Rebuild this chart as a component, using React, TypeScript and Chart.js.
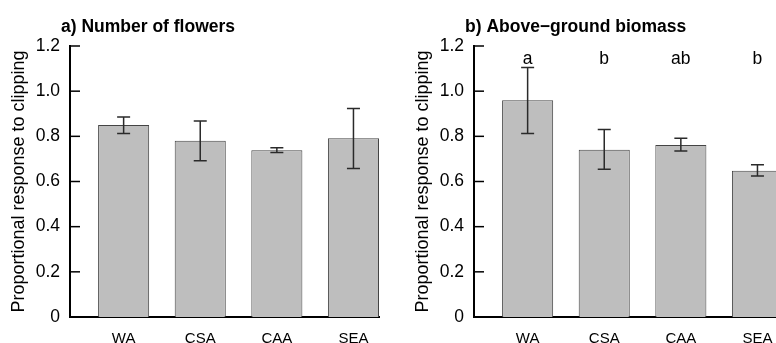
import React, { useEffect, useRef } from "react";
import { Chart, registerables } from "chart.js";

Chart.register(...registerables);

// ---- data ----
const CATEGORIES = ["WA", "CSA", "CAA", "SEA"];

const FLOWERS_MEAN = [0.85, 0.78, 0.738, 0.791];
const FLOWERS_LOWER = [0.813, 0.692, 0.728, 0.658];
const FLOWERS_UPPER = [0.886, 0.868, 0.75, 0.923];

const BIOMASS_MEAN = [0.96, 0.741, 0.762, 0.648];
const BIOMASS_LOWER = [0.812, 0.654, 0.735, 0.624];
const BIOMASS_UPPER = [1.105, 0.83, 0.791, 0.674];
const BIOMASS_GROUPS = ["a", "b", "ab", "b"];

const Y_TICKS = [0, 0.2, 0.4, 0.6, 0.8, 1.0, 1.2];
const Y_TICK_LABELS = ["0", "0.2", "0.4", "0.6", "0.8", "1.0", "1.2"];

const Y_TITLE = "Proportional response to clipping";
const TITLE_A = "a) Number of flowers";
const TITLE_B = "b) Above\u2212ground biomass";

// barplot-style layout: unit-width bars separated by half a bar
const BAR_SPACE = 0.5;
const X_MIN = -0.05;
const X_MAX = 6;
const GROUP_LABEL_Y = 1.12;

const FONT = '"Liberation Sans", Arial, Helvetica, sans-serif';
const PANEL_W = 404;
const PANEL_H = 343;

const barCenter = (i: number) => BAR_SPACE + 0.5 + i * (1 + BAR_SPACE);

type PanelProps = {
  title: string;
  means: number[];
  lowers: number[];
  uppers: number[];
  groups?: string[];
};

function Panel({ title, means, lowers, uppers, groups }: PanelProps) {
  const ref = useRef<HTMLCanvasElement | null>(null);

  useEffect(() => {
    const canvas = ref.current;
    if (!canvas) return;

    const positions = CATEGORIES.map((_, i) => barCenter(i));

    const panelDecor = {
      id: "panelDecor",
      afterDatasetsDraw(chart: any) {
        const { ctx, chartArea } = chart;
        const xs = chart.scales.x;
        const ys = chart.scales.y;
        const meta = chart.getDatasetMeta(0);

        // error bars
        ctx.save();
        ctx.strokeStyle = "#2a2a2a";
        ctx.lineWidth = 1.5;
        const cap = 6.5;
        meta.data.forEach((bar: any, i: number) => {
          const x = bar.x;
          const yTop = ys.getPixelForValue(uppers[i]);
          const yBot = ys.getPixelForValue(lowers[i]);
          ctx.beginPath();
          ctx.moveTo(x, yTop);
          ctx.lineTo(x, yBot);
          ctx.moveTo(x - cap, yTop);
          ctx.lineTo(x + cap, yTop);
          ctx.moveTo(x - cap, yBot);
          ctx.lineTo(x + cap, yBot);
          ctx.stroke();
        });
        ctx.restore();

        // inward y-axis ticks
        ctx.save();
        ctx.strokeStyle = "#000";
        ctx.lineWidth = 1.5;
        Y_TICKS.forEach((v) => {
          const y = ys.getPixelForValue(v);
          ctx.beginPath();
          ctx.moveTo(chartArea.left, y);
          ctx.lineTo(chartArea.left + 10, y);
          ctx.stroke();
        });
        ctx.restore();

        // group letters
        if (groups) {
          ctx.save();
          ctx.fillStyle = "#000";
          ctx.font = `17.5px ${FONT}`;
          ctx.textAlign = "center";
          ctx.textBaseline = "alphabetic";
          groups.forEach((g, i) => {
            ctx.fillText(g, xs.getPixelForValue(positions[i]), ys.getPixelForValue(GROUP_LABEL_Y));
          });
          ctx.restore();
        }

        // panel title
        ctx.save();
        ctx.fillStyle = "#000";
        ctx.font = `bold 17.5px ${FONT}`;
        ctx.textAlign = "left";
        ctx.textBaseline = "alphabetic";
        ctx.fillText(title, chartArea.left - 9, chartArea.top - 14);
        ctx.restore();
      },
    };

    const chart = new Chart(canvas, {
      type: "bar",
      data: {
        datasets: [
          {
            data: means.map((m, i) => ({ x: positions[i], y: m })),
            backgroundColor: "#bebebe",
            borderColor: "#444",
            borderWidth: 1,
            barPercentage: 2 / 3,
            categoryPercentage: 1,
          },
        ],
      },
      options: {
        responsive: false,
        animation: false,
        devicePixelRatio: 1,
        layout: { padding: { top: 46, right: 25, left: 0, bottom: 0 } },
        plugins: {
          legend: { display: false },
          tooltip: { enabled: false },
          title: { display: false },
        },
        scales: {
          x: {
            type: "linear",
            min: X_MIN,
            max: X_MAX,
            offset: false,
            grid: { display: false, drawTicks: false, offset: false },
            border: { display: true, color: "#000", width: 2 },
            afterBuildTicks: (scale: any) => {
              scale.ticks = positions.map((v) => ({ value: v }));
            },
            afterFit: (scale: any) => {
              scale.height = 26;
            },
            ticks: {
              autoSkip: false,
              maxRotation: 0,
              padding: 13,
              color: "#000",
              font: { family: FONT, size: 15 },
              callback: (_v: any, i: number) => CATEGORIES[i],
            },
          },
          y: {
            type: "linear",
            min: 0,
            max: 1.2,
            grid: { display: false, drawTicks: false },
            border: { display: true, color: "#000", width: 2 },
            afterBuildTicks: (scale: any) => {
              scale.ticks = Y_TICKS.map((v) => ({ value: v }));
            },
            afterFit: (scale: any) => {
              scale.width = 70;
            },
            ticks: {
              padding: 10,
              color: "#000",
              font: { family: FONT, size: 17.5 },
              callback: (_v: any, i: number) => Y_TICK_LABELS[i],
            },
            title: {
              display: true,
              text: Y_TITLE,
              color: "#000",
              font: { family: FONT, size: 18 },
              padding: { top: 8, bottom: 0 },
            },
          },
        },
      },
      plugins: [panelDecor],
    });

    return () => chart.destroy();
  }, [title, means, lowers, uppers, groups]);

  return (
    <canvas
      ref={ref}
      width={PANEL_W}
      height={PANEL_H}
      style={{ display: "block", width: PANEL_W, height: PANEL_H }}
    />
  );
}

export default function App() {
  return (
    <div
      style={{
        position: "fixed",
        left: 0,
        top: 0,
        width: 776,
        height: 343,
        overflow: "hidden",
        background: "#fff",
      }}
    >
      <div style={{ position: "absolute", left: 0, top: 0 }}>
        <Panel title={TITLE_A} means={FLOWERS_MEAN} lowers={FLOWERS_LOWER} uppers={FLOWERS_UPPER} />
      </div>
      <div style={{ position: "absolute", left: PANEL_W, top: 0 }}>
        <Panel
          title={TITLE_B}
          means={BIOMASS_MEAN}
          lowers={BIOMASS_LOWER}
          uppers={BIOMASS_UPPER}
          groups={BIOMASS_GROUPS}
        />
      </div>
    </div>
  );
}
